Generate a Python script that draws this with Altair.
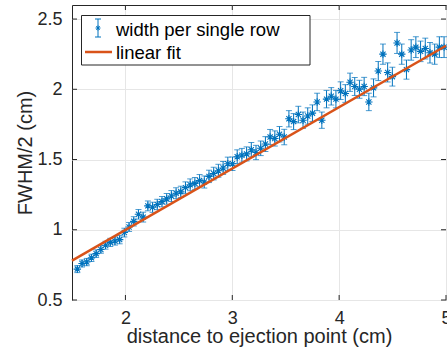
import altair as alt
import pandas as pd

# ---- data ----
dist = [1.550, 1.594, 1.638, 1.682, 1.726, 1.770, 1.814, 1.858, 1.902, 1.946,
        1.990, 2.034, 2.078, 2.122, 2.166, 2.210, 2.254, 2.298, 2.342, 2.386,
        2.430, 2.474, 2.518, 2.562, 2.606, 2.650, 2.694, 2.738, 2.782, 2.826,
        2.870, 2.914, 2.958, 3.002, 3.046, 3.090, 3.134, 3.178, 3.222, 3.266,
        3.310, 3.354, 3.398, 3.442, 3.486, 3.530, 3.574, 3.618, 3.662, 3.706,
        3.750, 3.794, 3.838, 3.882, 3.926, 3.970, 4.014, 4.058, 4.102, 4.146,
        4.190, 4.234, 4.278, 4.322, 4.366, 4.410, 4.454, 4.498, 4.542, 4.586,
        4.630, 4.674, 4.718, 4.762, 4.806, 4.850, 4.894, 4.938, 4.982]
width = [0.72, 0.76, 0.77, 0.80, 0.83, 0.86, 0.89, 0.91, 0.92, 0.93,
         0.98, 1.02, 1.06, 1.11, 1.09, 1.17, 1.16, 1.18, 1.20, 1.22,
         1.24, 1.26, 1.27, 1.30, 1.32, 1.33, 1.35, 1.34, 1.38, 1.40,
         1.42, 1.44, 1.47, 1.47, 1.52, 1.53, 1.54, 1.57, 1.55, 1.58,
         1.61, 1.66, 1.65, 1.68, 1.66, 1.79, 1.77, 1.82, 1.78, 1.81,
         1.83, 1.91, 1.78, 1.93, 1.95, 1.93, 1.99, 1.97, 2.05, 2.02,
         2.00, 2.02, 1.91, 2.01, 2.13, 2.25, 2.12, 2.09, 2.33, 2.25,
         2.14, 2.28, 2.30, 2.27, 2.29, 2.26, 2.25, 2.30, 2.30]
err = [0.025, 0.025, 0.026, 0.026, 0.027, 0.027, 0.028, 0.029, 0.029, 0.030,
       0.031, 0.032, 0.033, 0.034, 0.035, 0.035, 0.036, 0.037, 0.037, 0.038,
       0.039, 0.039, 0.040, 0.041, 0.042, 0.042, 0.043, 0.043, 0.044, 0.045,
       0.046, 0.046, 0.047, 0.048, 0.049, 0.049, 0.050, 0.051, 0.051, 0.052,
       0.053, 0.054, 0.054, 0.055, 0.055, 0.058, 0.057, 0.059, 0.058, 0.058,
       0.059, 0.062, 0.058, 0.062, 0.062, 0.062, 0.063, 0.063, 0.065, 0.064,
       0.064, 0.065, 0.062, 0.064, 0.068, 0.072, 0.068, 0.067, 0.075, 0.072,
       0.068, 0.073, 0.074, 0.073, 0.074, 0.073, 0.072, 0.074, 0.074]
fit_x = [1.5, 5.0]
fit_y = [0.78, 2.31]
x_ticks = [2, 3, 4, 5]
y_ticks = [0.5, 1, 1.5, 2, 2.5]
legend_labels = ["width per single row", "linear fit"]
x_title = "distance to ejection point (cm)"
y_title = "FWHM/2 (cm)"

BLUE = "#0072BD"
ORANGE = "#D95319"
INK = "#262626"
FONT = "Liberation Sans"
W, H = 374, 295
XD = [1.5, 5.0]
YD = [0.5, 2.6]
ASTERISK = "M-1,0L1,0M0,-1L0,1M-0.7,-0.7L0.7,0.7M-0.7,0.7L0.7,-0.7"

df = pd.DataFrame({"x": dist, "y": width, "e": err})
df["lo"] = df["y"] - df["e"]
df["hi"] = df["y"] + df["e"]
fit = pd.DataFrame({"x": fit_x, "y": fit_y})
xt = pd.DataFrame({"v": x_ticks})
yt = pd.DataFrame({"v": y_ticks})
one = pd.DataFrame({"a": [0]})

xs = alt.Scale(domain=XD, nice=False, zero=False)
ys = alt.Scale(domain=YD, nice=False, zero=False)

xaxis = alt.Axis(values=x_ticks, title=x_title, grid=True, ticks=False, tickSize=0,
                 domain=False, labelFlush=False, labelPadding=9,
                 labelExpr="datum.value",
                 titleY=42, titleBaseline="alphabetic")
yaxis = alt.Axis(values=y_ticks, title=y_title, grid=True, ticks=False, tickSize=0,
                 domain=False, labelPadding=10, labelExpr="datum.value",
                 titleX=-41, titleBaseline="alphabetic")

base = alt.Chart(df)
bars = base.mark_rule(color=BLUE, strokeWidth=1).encode(
    x=alt.X("x:Q", scale=xs, axis=xaxis),
    y=alt.Y("lo:Q", scale=ys, axis=yaxis),
    y2="hi:Q")
cap_lo = base.mark_tick(color=BLUE, orient="horizontal", size=6, thickness=1).encode(
    x=alt.X("x:Q", scale=xs), y=alt.Y("lo:Q", scale=ys))
cap_hi = base.mark_tick(color=BLUE, orient="horizontal", size=6, thickness=1).encode(
    x=alt.X("x:Q", scale=xs), y=alt.Y("hi:Q", scale=ys))
pts = base.mark_point(shape=ASTERISK, size=55, filled=False, color=BLUE,
                      strokeWidth=1.1, opacity=1).encode(
    x=alt.X("x:Q", scale=xs), y=alt.Y("y:Q", scale=ys))
line = alt.Chart(fit).mark_line(color=ORANGE, strokeWidth=2.5).encode(
    x=alt.X("x:Q", scale=xs), y=alt.Y("y:Q", scale=ys))

TL = 5
tick_b = alt.Chart(xt).mark_rule(color=INK, strokeWidth=1).encode(
    x=alt.X("v:Q", scale=xs), y=alt.value(H), y2=alt.value(H - TL))
tick_t = alt.Chart(xt).mark_rule(color=INK, strokeWidth=1).encode(
    x=alt.X("v:Q", scale=xs), y=alt.value(0), y2=alt.value(TL))
tick_l = alt.Chart(yt).mark_rule(color=INK, strokeWidth=1).encode(
    y=alt.Y("v:Q", scale=ys), x=alt.value(0), x2=alt.value(TL))
tick_r = alt.Chart(yt).mark_rule(color=INK, strokeWidth=1).encode(
    y=alt.Y("v:Q", scale=ys), x=alt.value(W), x2=alt.value(W - TL))

# legend (decoration)
leg_box = alt.Chart(one).mark_rect(fill="white", stroke=INK, strokeWidth=1).encode(
    x=alt.value(9.5), x2=alt.value(238), y=alt.value(10.5), y2=alt.value(60))
leg_bar = alt.Chart(one).mark_rule(color=BLUE, strokeWidth=1).encode(
    x=alt.value(26), y=alt.value(14), y2=alt.value(32))
leg_cap1 = alt.Chart(one).mark_rule(color=BLUE, strokeWidth=1).encode(
    x=alt.value(23), x2=alt.value(29), y=alt.value(14))
leg_cap2 = alt.Chart(one).mark_rule(color=BLUE, strokeWidth=1).encode(
    x=alt.value(23), x2=alt.value(29), y=alt.value(32))
leg_pt = alt.Chart(one).mark_point(shape=ASTERISK, size=25, filled=False, color=BLUE,
                                   strokeWidth=1, opacity=1).encode(
    x=alt.value(26), y=alt.value(23))
leg_line = alt.Chart(one).mark_rule(color=ORANGE, strokeWidth=2.5).encode(
    x=alt.value(13), x2=alt.value(40), y=alt.value(47))
leg_t1 = alt.Chart(one).mark_text(align="left", baseline="middle", font=FONT,
                                  fontSize=18.5, color="black").encode(
    x=alt.value(44), y=alt.value(24.5), text=alt.value(legend_labels[0]))
leg_t2 = alt.Chart(one).mark_text(align="left", baseline="middle", font=FONT,
                                  fontSize=18.5, color="black").encode(
    x=alt.value(44), y=alt.value(47.5), text=alt.value(legend_labels[1]))

chart = alt.layer(
    bars, cap_lo, cap_hi, pts, line,
    tick_b, tick_t, tick_l, tick_r,
    leg_box, leg_bar, leg_cap1, leg_cap2, leg_pt, leg_line, leg_t1, leg_t2,
).properties(
    width=W, height=H,
    autosize=alt.AutoSizeParams(type="none"),
    padding={"left": 72, "top": 5, "right": 1, "bottom": 58},
    background="white",
).configure_view(
    stroke=INK, strokeWidth=1
).configure_axis(
    gridColor="#e6e6e6", gridWidth=1,
    labelFont=FONT, labelFontSize=18, labelColor=INK,
    titleFont=FONT, titleFontSize=20, titleColor=INK, titleFontWeight="normal",
)

chart.save("out.html", embed_options={"renderer": "svg", "actions": False})
